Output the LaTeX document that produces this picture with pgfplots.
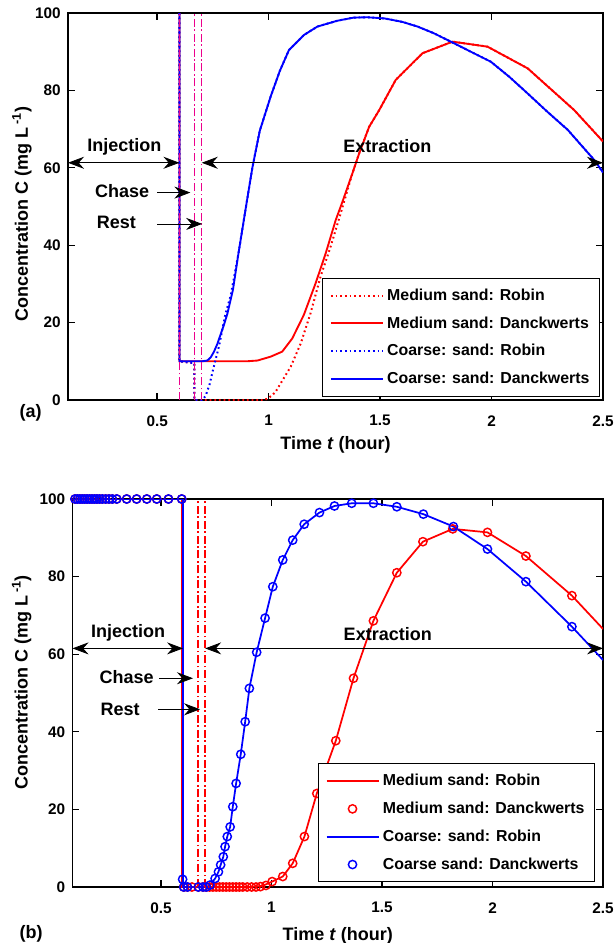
\documentclass[border=0pt]{standalone}
\usepackage{pgfplots}
\pgfplotsset{compat=1.18}
\usepackage{fontspec}
\setmainfont{Liberation Sans}
\usetikzlibrary{arrows.meta}

\tikzset{>={Stealth[length=12pt,width=9pt,inset=4pt]},
  arr/.style={line width=0.6pt, black},
  ann/.style={font=\bfseries\fontsize{13.5}{15}\selectfont},
  dashdot/.style={dash pattern=on 6pt off 2pt on 1.2pt off 2pt, line width=1.1pt},
  robin/.style={dash pattern=on 1.3pt off 2.2pt, line width=1.5pt}}

\pgfplotsset{
 base/.style={
  scale only axis, xmin=0.1, xmax=2.5, ymin=0, ymax=100,
  xtick={0.5,1,1.5,2,2.5}, ytick={0,20,40,60,80,100},
  tick align=inside, major tick length=5pt,
  axis line style={line width=1.1pt},
  every tick/.style={black, line width=1pt},
  ticklabel style={font=\bfseries\fontsize{11.5}{13}\selectfont},
  /pgf/number format/assume math mode=true,
  label style={font=\bfseries\fontsize{13.5}{15}\selectfont},
  xlabel={Time \textit{t} (hour)},
  ylabel={Concentration C (mg L\,\textsuperscript{-1})},
  legend cell align=left,
  legend style={draw=black, line width=0.8pt, fill=white,
    font=\bfseries\fontsize{11.9}{13}\selectfont,
    inner xsep=5.5pt, inner ysep=6pt, row sep=6.75pt, column sep=0.5pt,
    anchor=south east},
  legend image code/.code={\draw[##1, line width=1.6pt] (0pt,0pt) -- (39pt,0pt);},
 },
 markleg/.style={legend image code/.code={\draw[##1] plot coordinates {(19.5pt,0pt)};}},
}

\begin{document}
\begin{tikzpicture}
\useasboundingbox (0pt,0pt) rectangle (460.5pt,-707.25pt);

% ---------------- panel (a)
\begin{axis}[base, name=A, at={(51pt,-9.75pt)}, anchor=north west,
  width=401.25pt, height=290.25pt,
  xticklabel style={yshift=-8pt}, yticklabel style={xshift=-2pt},
  xlabel style={at={(axis description cs:0.5,-0.1155)}, anchor=center},
  ylabel style={at={(axis description cs:-0.086,0.48)}, anchor=center},
  legend style={at={(axis description cs:1,0)}, xshift=-2.25pt, yshift=2.25pt}]

\addplot[color=red, robin] coordinates {
(0.6,100)(0.6,10)(0.667,9.5)(0.667,0)(0.7,0)(0.8,0)(0.9,0)(0.98,0)(1.0,0.5)(1.03,2)
(1.054,4.3)(1.099,8.6)(1.144,14.6)(1.188,22.4)(1.233,31.9)(1.278,39.6)(1.323,48.2)
(1.376,58.6)(1.406,63.7)(1.451,70.6)(1.496,74.9)(1.57,82.7)(1.69,89.6)(1.825,92.6)
(1.982,91.3)(2.162,85.7)(2.371,74.9)(2.5,66.8)};
\addlegendentry{Medium sand: Robin}

\addplot[color=red, line width=1.4pt] coordinates {
(0.6,100)(0.6,10)(0.7,10)(0.8,10)(0.9,10)(0.95,10.2)(1.009,11.2)(1.061,12.5)(1.106,15.9)
(1.158,22)(1.211,30.2)(1.256,37.9)(1.301,46.5)(1.331,51.2)(1.376,58.6)(1.406,63.7)
(1.451,70.6)(1.496,74.9)(1.57,82.7)(1.69,89.6)(1.825,92.6)(1.982,91.3)(2.162,85.7)
(2.371,74.9)(2.5,66.8)};
\addlegendentry{Medium sand: Danckwerts}

\addplot[color=blue, robin] coordinates {
(0.6,100)(0.6,10)(0.667,9.5)(0.667,0)(0.7,0)(0.717,1)(0.735,4)(0.754,8.6)(0.777,13.8)
(0.807,22.4)(0.83,27)(0.865,38)(0.9,50.5)(0.927,60)(0.96,69.5)(1.009,78.4)(1.05,85)
(1.091,90.4)(1.158,94.3)(1.219,96.5)(1.308,98)(1.38,98.8)(1.443,98.9)(1.52,98.6)
(1.6,97.7)(1.668,96.5)(1.74,94.8)(1.803,93)(1.907,90)(1.997,87.4)(2.08,83.5)(2.162,79.2)
(2.25,74.5)(2.342,69.8)(2.461,62)(2.5,58.8)};
\addlegendentry{Coarse: sand: Robin}

\addplot[color=blue, line width=1.4pt] coordinates {
(0.6,100)(0.6,10)(0.7,10)(0.725,10.2)(0.74,11)(0.755,12.5)(0.77,14.5)(0.785,17)(0.8,19.5)
(0.815,22.3)(0.84,28.5)(0.865,38)(0.9,50.5)(0.927,60)(0.96,69.5)(1.009,78.4)(1.05,85)
(1.091,90.4)(1.158,94.3)(1.219,96.5)(1.308,98)(1.38,98.8)(1.443,98.9)(1.52,98.6)
(1.6,97.7)(1.668,96.5)(1.74,94.8)(1.803,93)(1.907,90)(1.997,87.4)(2.08,83.5)(2.162,79.2)
(2.25,74.5)(2.342,69.8)(2.461,62)(2.5,58.8)};
\addlegendentry{Coarse: sand: Danckwerts}

\addplot[color=magenta, dashdot, forget plot] coordinates {(0.6,0)(0.6,100)};
\addplot[color=magenta, dashdot, forget plot] coordinates {(0.667,0)(0.667,100)};
\addplot[color=magenta, dashdot, forget plot] coordinates {(0.7,0)(0.7,100)};

\draw[arr,<->] (0.1,61.3) -- (0.6,61.3);
\draw[arr,<->] (0.7,61.3) -- (2.5,61.3);
\draw[arr,->] (0.5,53.6) -- (0.649,53.6);
\draw[arr,->] (0.5,45.5) -- (0.702,45.5);
\node[ann] at (0.353,65.5) {Injection};
\node[ann] at (0.343,54.1) {Chase};
\node[ann] at (0.317,45.8) {Rest};
\node[ann] at (1.533,65.5) {Extraction};
\end{axis}
\node[ann] at ([xshift=-28pt,yshift=-10pt]A.south west) {(a)};

% ---------------- panel (b)
\begin{axis}[base, name=B, at={(54.4pt,-374.25pt)}, anchor=north west,
  width=397.9pt, height=291pt,
  xticklabel style={yshift=-8pt}, yticklabel style={xshift=-2pt},
  xlabel style={at={(axis description cs:0.5,-0.126)}, anchor=center},
  ylabel style={at={(axis description cs:-0.096,0.527)}, anchor=center},
  legend style={at={(axis description cs:1,0)}, xshift=-6pt, yshift=3.4pt}]

\addplot[color=red, line width=1.3pt] coordinates {
(0.1,100)(0.595,100)(0.595,0)(0.7,0)(0.8,0)(0.9,0)(0.96,0.3)(1.003,1.4)(1.051,2.7)(1.096,6.1)
(1.149,13)(1.205,24.1)(1.291,37.7)(1.371,53.8)(1.461,68.6)(1.567,81)(1.685,89)(1.82,92.3)
(1.977,91.4)(2.151,85.3)(2.359,75.1)(2.5,66.5)};
\addlegendentry{Medium sand: Robin}

\addplot[color=red, only marks, mark=o, mark size=3.1pt, mark options={line width=1.1pt, solid},
  markleg] coordinates {
(0.111,100)(0.122,100)(0.133,100)(0.144,100)(0.155,100)(0.166,100)(0.177,100)(0.188,100)
(0.199,100)(0.21,100)(0.222,100)(0.235,100)(0.25,100)(0.265,100)(0.28,100)(0.3,100)
(0.345,100)(0.39,100)(0.436,100)(0.481,100)(0.534,100)(0.594,100)
(0.603,0)(0.62,0)(0.64,0)(0.669,0)(0.69,0)(0.705,0)(0.72,0)(0.735,0)(0.75,0)(0.765,0)
(0.78,0)(0.795,0)(0.81,0)(0.825,0)(0.84,0)(0.855,0)(0.87,0)(0.89,0)(0.91,0)(0.93,0)
(0.95,0.1)(0.975,0.4)(1.003,1.4)(1.051,2.7)(1.096,6.1)(1.149,13)(1.205,24.1)(1.291,37.7)
(1.371,53.8)(1.461,68.6)(1.567,81)(1.685,89)(1.82,92.3)(1.977,91.4)(2.151,85.3)(2.359,75.1)};
\addlegendentry{Medium sand: Danckwerts}

\addplot[color=blue, line width=1.3pt] coordinates {
(0.1,100)(0.6,100)(0.6,0)(0.7,0)(0.71,0.1)(0.722,0.5)(0.745,2.2)(0.76,3.9)(0.77,5.7)
(0.782,7.8)(0.79,10.4)(0.8,13)(0.813,15.5)(0.825,20.7)(0.84,26.7)(0.861,34.2)(0.881,42.6)
(0.9,51.2)(0.933,60.5)(0.971,69.3)(1.006,77.4)(1.051,84.3)(1.096,89.4)(1.148,93.5)
(1.217,96.5)(1.285,98.2)(1.363,98.9)(1.461,98.9)(1.567,98)(1.687,96.1)(1.823,92.9)
(1.977,87.1)(2.151,78.7)(2.359,67.1)(2.5,58.5)};
\addlegendentry{Coarse: sand: Robin}

\addplot[color=blue, only marks, mark=o, mark size=3.1pt, mark options={line width=1.1pt, solid},
  markleg] coordinates {
(0.111,100)(0.122,100)(0.133,100)(0.144,100)(0.155,100)(0.166,100)(0.177,100)(0.188,100)
(0.199,100)(0.21,100)(0.222,100)(0.235,100)(0.25,100)(0.265,100)(0.28,100)(0.3,100)
(0.345,100)(0.39,100)(0.436,100)(0.481,100)(0.534,100)(0.594,100)
(0.598,2)(0.603,0)(0.62,0)(0.669,0)(0.69,0)(0.705,0)(0.722,0.5)(0.745,2.2)(0.76,3.9)
(0.77,5.7)(0.782,7.8)(0.79,10.4)(0.8,13)(0.813,15.5)(0.825,20.7)(0.84,26.7)(0.861,34.2)
(0.881,42.6)(0.9,51.2)(0.933,60.5)(0.971,69.3)(1.006,77.4)(1.051,84.3)(1.096,89.4)
(1.148,93.5)(1.217,96.5)(1.285,98.2)(1.363,98.9)(1.461,98.9)(1.567,98)(1.687,96.1)
(1.823,92.9)(1.977,87.1)(2.151,78.7)(2.359,67.1)};
\addlegendentry{Coarse sand: Danckwerts}

\addplot[color=red, dashdot, forget plot] coordinates {(0.667,0)(0.667,100)};
\addplot[color=red, dashdot, forget plot] coordinates {(0.7,0)(0.7,100)};

\draw[arr,<->] (0.1,61.5) -- (0.6,61.5);
\draw[arr,<->] (0.7,61.5) -- (2.5,61.5);
\draw[arr,->] (0.493,53.8) -- (0.645,53.8);
\draw[arr,->] (0.488,45.8) -- (0.677,45.8);
\node[ann] at (0.351,65.4) {Injection};
\node[ann] at (0.345,54.2) {Chase};
\node[ann] at (0.315,45.8) {Rest};
\node[ann] at (1.526,65.1) {Extraction};
\end{axis}
\node[ann] at ([xshift=-31.1pt,yshift=-35.25pt]B.south west) {(b)};
\end{tikzpicture}
\end{document}
